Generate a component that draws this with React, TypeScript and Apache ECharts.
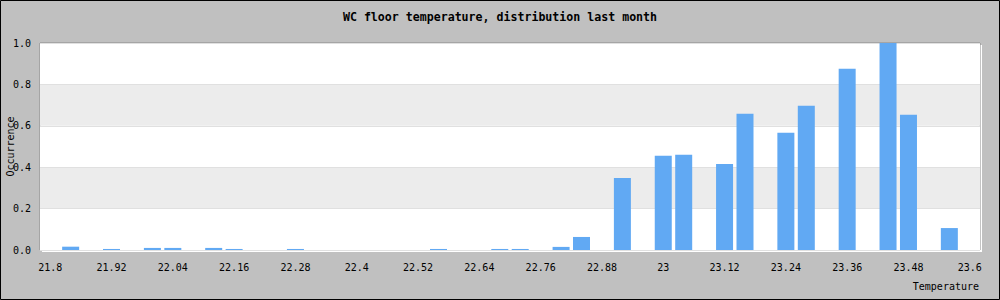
import React, { useEffect, useRef } from "react";
import * as echarts from "echarts";

const titleText = "WC floor temperature, distribution last month";
const xName = "Temperature";
const yName = "Occurrence";

const temperatures = [
  21.84, 21.92, 22.0, 22.04, 22.12, 22.16, 22.28, 22.56, 22.68, 22.72, 22.8,
  22.84, 22.92, 23.0, 23.04, 23.12, 23.16, 23.24, 23.28, 23.36, 23.44, 23.48,
  23.56,
];
const occurrence = [
  0.016, 0.005, 0.01, 0.01, 0.01, 0.005, 0.005, 0.005, 0.005, 0.005, 0.015,
  0.063, 0.348, 0.455, 0.46, 0.416, 0.658, 0.566, 0.697, 0.876, 1.0, 0.653,
  0.106,
];
const xTicks = [
  21.8, 21.92, 22.04, 22.16, 22.28, 22.4, 22.52, 22.64, 22.76, 22.88, 23,
  23.12, 23.24, 23.36, 23.48, 23.6,
];
const xTickLabels = [
  "21.8", "21.92", "22.04", "22.16", "22.28", "22.4", "22.52", "22.64",
  "22.76", "22.88", "23", "23.12", "23.24", "23.36", "23.48", "23.6",
];

const FONT = "DejaVu Sans Mono";

export default function App() {
  const ref = useRef<HTMLDivElement>(null);
  useEffect(() => {
    if (!ref.current) return;
    const chart = echarts.init(ref.current, null, { renderer: "svg" });
    const data = temperatures.map((t, i) => [t, occurrence[i]]);
    chart.setOption({
      animation: false,
      backgroundColor: "#c0c0c0",
      title: {
        text: titleText,
        left: "center",
        top: 6,
        textStyle: {
          fontFamily: FONT,
          fontSize: 11.6,
          fontWeight: "bold",
          color: "#000",
        },
      },
      grid: {
        left: 40,
        right: 20,
        top: 43,
        bottom: 50,
        containLabel: false,
        outerBoundsMode: "none",
        show: true,
        backgroundColor: "#ffffff",
        borderColor: "#8a8a8a",
        borderWidth: 1,
      },
      graphic: [
        {
          type: "rect",
          z: -1,
          silent: true,
          shape: { x: 42, y: 45, width: 940, height: 207 },
          style: { fill: "#ffffff" },
        },
        {
          type: "text",
          right: 21,
          top: 281,
          style: {
            text: xName,
            fontFamily: FONT,
            fontSize: 10,
            fill: "#000",
          },
        },
        {
          type: "rect",
          silent: true,
          shape: { x: 0.5, y: 0.5, width: 999, height: 299 },
          style: { fill: "none", stroke: "#000", lineWidth: 1 },
        },
      ],
      xAxis: {
        type: "value",
        min: 21.78,
        max: 23.62,
        axisLine: { show: false },
        axisTick: { show: false },
        splitLine: { show: false },
        axisLabel: {
          customValues: xTicks,
          formatter: (v: number) => {
            const i = xTicks.findIndex((t) => Math.abs(t - v) < 1e-6);
            return i >= 0 ? xTickLabels[i] : String(v);
          },
          fontFamily: FONT,
          fontSize: 10,
          color: "#000",
          margin: 12,
        },
      },
      yAxis: {
        type: "value",
        min: 0,
        max: 1,
        interval: 0.2,
        name: yName,
        nameLocation: "middle",
        nameGap: 25,
        nameMoveOverlap: false,
        nameTextStyle: { fontFamily: FONT, fontSize: 10, color: "#000" },
        axisLine: { show: false },
        axisTick: { show: false },
        axisLabel: {
          formatter: (v: number) => v.toFixed(1),
          fontFamily: FONT,
          fontSize: 10,
          color: "#000",
          margin: 9,
        },
        splitLine: { show: true, lineStyle: { color: "#e0e0e0", width: 1 } },
        splitArea: {
          show: true,
          areaStyle: { color: ["#ffffff", "#ececec"] },
        },
      },
      series: [
        {
          type: "bar",
          data,
          barWidth: 17,
          itemStyle: { color: "#61a9f3" },
        },
      ],
    });
    return () => chart.dispose();
  }, []);
  return (
    <div
      ref={ref}
      style={{ position: "fixed", left: 0, top: 0, width: 1000, height: 300 }}
    />
  );
}
